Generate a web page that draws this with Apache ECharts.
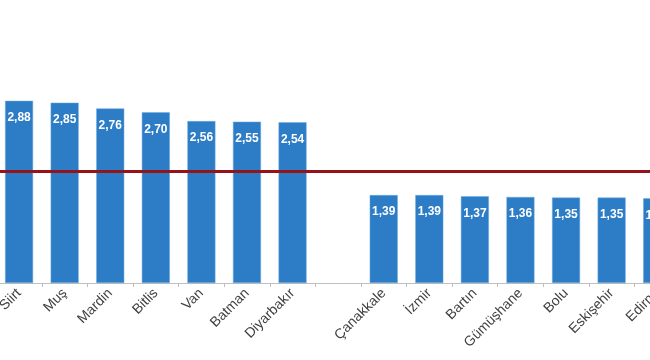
<!DOCTYPE html>
<html>
<head>
<meta charset="utf-8">
<script src="https://cdn.jsdelivr.net/npm/echarts@6/dist/echarts.min.js"></script>
<style>html,body{margin:0;padding:0;background:#fff;overflow:hidden;width:650px;height:360px;}#c{position:absolute;left:-5px;top:0;width:685px;height:360px;}</style>
</head>
<body>
<div id="c"></div>
<script>
const categories = ['Siirt','Muş','Mardin','Bitlis','Van','Batman','Diyarbakır','','Çanakkale','İzmir','Bartın','Gümüşhane','Bolu','Eskişehir','Edirne'];
const values = [2.88, 2.85, 2.76, 2.70, 2.56, 2.55, 2.54, null, 1.39, 1.39, 1.37, 1.36, 1.35, 1.35, 1.34];
const averageValue = 1.76;

const chart = echarts.init(document.getElementById('c'), null, {renderer: 'canvas'});
chart.setOption({
  animation: false,
  backgroundColor: '#ffffff',
  grid: {left: 0, right: 0, top: 30, bottom: 77, containLabel: false},
  xAxis: {
    type: 'category',
    data: categories,
    axisLine: {lineStyle: {color: '#BFBFBF', width: 1}},
    axisTick: {show: true, length: 4, lineStyle: {color: '#BFBFBF'}},
    axisLabel: {rotate: 45, color: '#404040', fontSize: 14, fontFamily: 'Liberation Sans, Arial, sans-serif', margin: 8, interval: 0}
  },
  yAxis: {
    type: 'value', min: 0, max: 4,
    show: false,
    splitLine: {show: false}
  },
  series: [{
    type: 'bar',
    data: values,
    barWidth: 28,
    itemStyle: {color: '#2C7CC6', borderColor: '#6AAAE0', borderWidth: 0.5},
    label: {
      show: true, position: 'insideTop', distance: 11,
      color: '#ffffff', fontSize: 12, fontWeight: 'bold',
      fontFamily: 'Liberation Sans, Arial, sans-serif',
      formatter: p => p.value == null ? '' : p.value.toFixed(2).replace('.', ',')
    },
    markLine: {
      silent: true,
      symbol: ['none','none'],
      label: {show: false},
      lineStyle: {color: '#951419', width: 3, type: 'solid'},
      data: [{yAxis: averageValue}]
    }
  }]
});
</script>
</body>
</html>
